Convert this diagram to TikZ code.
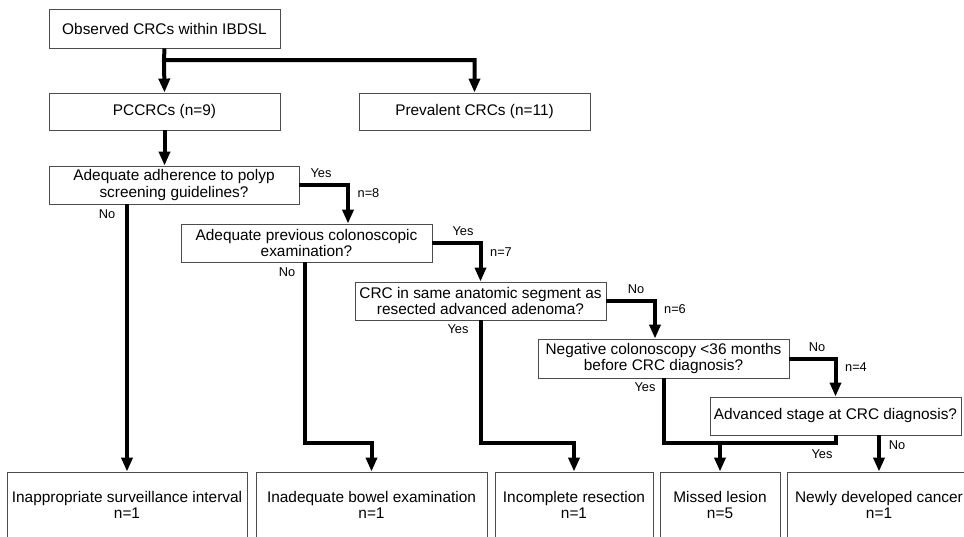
\documentclass[tikz,border=0pt]{standalone}
\usepackage{fontspec}
\setmainfont{Liberation Sans}
\usetikzlibrary{arrows.meta}
\begin{document}
\begin{tikzpicture}[x=1pt,y=-1pt,
  box/.style={draw=black!70, line width=0.9pt, align=center, inner sep=0pt,
    font=\fontsize{15.4}{16.5}\selectfont},
  conn/.style={line width=4pt, -{Triangle[length=14pt,width=11pt]}},
  seg/.style={line width=4pt},
  lab/.style={font=\fontsize{12.8}{14}\selectfont, inner sep=0pt}]
\useasboundingbox (0,0) rectangle (964,536);
\clip (0,0) rectangle (964,536);
% boxes
\node[box, minimum width=231pt, minimum height=39pt] (top) at (164.5,28.5) {Observed CRCs within IBDSL};
\node[box, minimum width=231pt, minimum height=37pt] (pcc) at (164.5,111.5) {PCCRCs (n=9)};
\node[box, minimum width=231pt, minimum height=37pt] (prev) at (474.5,111.5) {Prevalent CRCs (n=11)};
\node[box, minimum width=250pt, minimum height=38pt] (q1) at (174,185) {Adequate adherence to polyp\\screening guidelines?};
\node[box, minimum width=251pt, minimum height=38pt] (q2) at (306.5,243) {Adequate previous colonoscopic\\examination?};
\node[box, minimum width=251pt, minimum height=38pt] (q3) at (480.5,301) {CRC in same anatomic segment as\\resected advanced adenoma?};
\node[box, minimum width=251pt, minimum height=39pt] (q4) at (663.5,358.5) {Negative colonoscopy <36 months\\before CRC diagnosis?};
\node[box, minimum width=251pt, minimum height=38pt] (q5) at (835.5,416) {Advanced stage at CRC diagnosis?};
\node[box, minimum width=240pt, minimum height=66pt] (b1) at (127,505) {Inappropriate surveillance interval\\n=1};
\node[box, minimum width=231pt, minimum height=66pt] (b2) at (371.5,505) {Inadequate bowel examination\\n=1};
\node[box, minimum width=158pt, minimum height=66pt] (b3) at (574,505) {Incomplete resection\\n=1};
\node[box, minimum width=120pt, minimum height=66pt] (b4) at (720,505) {Missed lesion\\n=5};
\node[box, minimum width=184pt, minimum height=66pt] (b5) at (879,505) {Newly developed cancer\\n=1};
% helper coordinates
\coordinate (s0) at (164,60);
\coordinate (c1) at (348,0);
\coordinate (c3) at (655,0);
\coordinate (j1) at (305,443);
\coordinate (m2) at (b2.north |- j1);
\coordinate (m3) at (b3.north |- j1);
\coordinate (m5) at (q5.south |- j1);
\coordinate (m4) at (b4.north |- j1);
% connectors
\draw[conn] (top.south) -- (s0) -| (prev.north);
\draw[conn] (s0) -- (pcc.north);
\draw[conn] (pcc.south) -- (pcc.south |- q1.north);
\draw[conn] (q1.east) -| (q2.north -| c1);
\draw[conn] (b1.north |- q1.south) -- (b1.north);
\draw[conn] (q2.east) -| (q3.north);
\draw[conn] (q2.south -| j1) -- (j1) -- (m2) -- (b2.north);
\draw[conn] (q3.east) -| (q4.north -| c3);
\draw[conn] (q3.south) |- (m3) -- (b3.north);
\draw[conn] (q4.east) -| (q5.north);
\draw[seg] (q4.south) |- (m5) -- (q5.south);
\draw[conn] (m4) -- (b4.north);
\draw[conn] (b5.north |- q5.south) -- (b5.north);
% labels
\node[lab] (l1) at (321,173) {Yes};
\node[lab] (l2) at (368.5,193) {n=8};
\node[lab] (l3) at (107,214) {No};
\node[lab] (l4) at (463,231) {Yes};
\node[lab] (l5) at (501,252) {n=7};
\node[lab] (l6) at (287,272) {No};
\node[lab] (l7) at (636,289) {No};
\node[lab] (l8) at (675,309) {n=6};
\node[lab] (l9) at (458,329) {Yes};
\node[lab] (l10) at (817,347) {No};
\node[lab] (l11) at (856,367) {n=4};
\node[lab] (l12) at (645,387) {Yes};
\node[lab] (l13) at (822,454) {Yes};
\node[lab] (l14) at (897,445) {No};
\end{tikzpicture}
\end{document}
